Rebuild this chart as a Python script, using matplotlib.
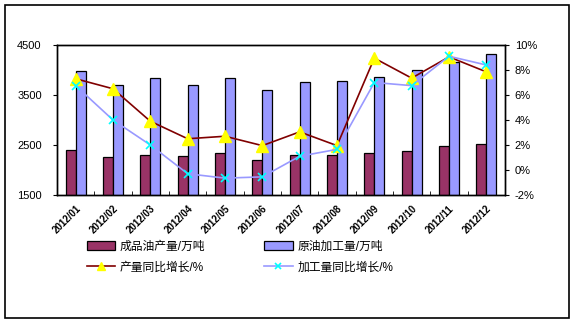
import matplotlib
matplotlib.use('Agg')
import matplotlib.pyplot as plt
from matplotlib.patches import Rectangle
from matplotlib.ticker import FuncFormatter
import numpy as np

plt.rcParams['font.family'] = ['Liberation Sans', 'Noto Sans CJK SC']

# Monthly data, 2012
months = ['2012/01', '2012/02', '2012/03', '2012/04', '2012/05', '2012/06',
          '2012/07', '2012/08', '2012/09', '2012/10', '2012/11', '2012/12']
product_output = [2410, 2255, 2295, 2275, 2350, 2210, 2310, 2310, 2350, 2390, 2490, 2530]
crude_processed = [3980, 3700, 3840, 3700, 3840, 3600, 3760, 3780, 3870, 4000, 4160, 4320]
output_yoy = [7.3, 6.5, 3.9, 2.5, 2.7, 1.95, 3.05, 1.95, 8.95, 7.35, 9.05, 7.85]
process_yoy = [6.75, 4.0, 2.0, -0.3, -0.65, -0.55, 1.1, 1.65, 7.0, 6.75, 9.1, 8.4]

label_output = '成品油产量/万吨'
label_crude = '原油加工量/万吨'
label_out_yoy = '产量同比增长/%'
label_proc_yoy = '加工量同比增长/%'

fig = plt.figure(figsize=(5.76, 3.22), dpi=100)
ax = fig.add_axes([57/576, 1 - 195/322, 448/576, 150/322])
ax2 = ax.twinx()

x = np.arange(len(months))
w = 0.27
b1 = ax.bar(x - w/2, product_output, w, color='#993366', edgecolor='black', linewidth=0.9,
            label=label_output, zorder=2)
b2 = ax.bar(x + w/2, crude_processed, w, color='#9999FF', edgecolor='black', linewidth=0.9,
            label=label_crude, zorder=2)

l1, = ax2.plot(x, output_yoy, color='#800000', lw=1.2, marker='^', markersize=8,
               markerfacecolor='#FFFF00', markeredgecolor='#FFFF00', label=label_out_yoy)
l2, = ax2.plot(x, process_yoy, color='#9999FF', lw=1.2, marker='x', markersize=6,
               markeredgecolor='#00FFFF', markeredgewidth=1.2, label=label_proc_yoy)

ax.set_xlim(-0.5, len(months) - 0.5)
ax.set_ylim(1500, 4500)
ax.set_yticks([1500, 2500, 3500, 4500])
ax2.set_ylim(-2, 10)
ax2.set_yticks(range(-2, 11, 2))
ax2.yaxis.set_major_formatter(FuncFormatter(lambda v, p: '%d%%' % v))

ax.set_xticks(x)
ax.set_xticklabels(months, rotation=45, ha='right', rotation_mode='anchor',
                   fontsize=7, fontweight='bold')
ax.set_xticks(np.arange(-0.5, len(months)), minor=True)
ax.tick_params(axis='x', which='major', length=0, pad=6)
ax.tick_params(axis='x', which='minor', length=3, direction='in')
ax.tick_params(axis='y', length=3, labelsize=8, pad=8)
ax2.tick_params(axis='y', length=3, labelsize=8, pad=4)

for a in (ax, ax2):
    for s in a.spines.values():
        s.set_linewidth(1.0)

fig.legend([b1, l1, b2, l2], [label_output, label_out_yoy, label_crude, label_proc_yoy],
           ncol=2, loc='upper left', bbox_to_anchor=(76/576, 1 - 230/322),
           frameon=False, fontsize=8.5, handlelength=2.4, handleheight=0.7,
           columnspacing=5.0, labelspacing=0.75, handletextpad=0.4, markerscale=0.8)

fig.patches.append(Rectangle((5/576, 4/322), 564/576, 313/322, transform=fig.transFigure,
                             fill=False, edgecolor='black', linewidth=1.2))

fig.savefig('out.png', dpi=100)
